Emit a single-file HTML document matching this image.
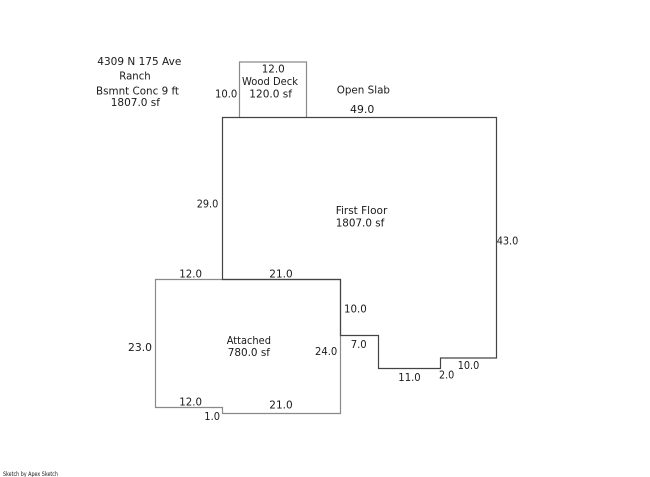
<!DOCTYPE html>
<html>
<head>
<meta charset="utf-8">
<style>
html,body{margin:0;padding:0;background:#fff;}
svg{display:block;}
text{font-family:"DejaVu Sans","Liberation Sans",sans-serif;font-size:11px;fill:#1a1a1a;}
</style>
</head>
<body>
<svg width="650" height="477" viewBox="0 0 650 477" xmlns="http://www.w3.org/2000/svg">
<rect width="650" height="477" fill="#fff"/>
<!-- Wood deck -->
<polyline points="239.5,117 239.5,62 306.5,62 306.5,117" fill="none" stroke="#8a8a8a" stroke-width="1.2"/>
<!-- Attached -->
<polygon points="155.5,279.5 340.5,279.5 340.5,413.5 222.5,413.5 222.5,407.5 155.5,407.5" fill="none" stroke="#8a8a8a" stroke-width="1.2"/>
<!-- First floor -->
<polygon points="222.5,117.5 496.5,117.5 496.5,358 440.5,358 440.5,368.5 378.5,368.5 378.5,335.5 340.5,335.5 340.5,279.5 222.5,279.5" fill="none" stroke="#444" stroke-width="1.2"/>

<!-- header text -->
<text x="97.3" y="65" textLength="84" lengthAdjust="spacingAndGlyphs">4309 N 175 Ave</text>
<text x="119.3" y="79.5" textLength="31.4" lengthAdjust="spacingAndGlyphs">Ranch</text>
<text x="96" y="94.5" textLength="83" lengthAdjust="spacingAndGlyphs">Bsmnt Conc 9 ft</text>
<text x="110.7" y="106" textLength="49.3" lengthAdjust="spacingAndGlyphs">1807.0 sf</text>

<!-- deck labels -->
<text x="261.7" y="72.7" textLength="23" lengthAdjust="spacingAndGlyphs">12.0</text>
<text x="242" y="85" textLength="56" lengthAdjust="spacingAndGlyphs">Wood Deck</text>
<text x="249.3" y="97.3" textLength="42.7" lengthAdjust="spacingAndGlyphs">120.0 sf</text>
<text x="215" y="97.3" textLength="22.3" lengthAdjust="spacingAndGlyphs">10.0</text>

<text x="336.7" y="93.7" textLength="53.3" lengthAdjust="spacingAndGlyphs">Open Slab</text>
<text x="350" y="113" textLength="24.3" lengthAdjust="spacingAndGlyphs">49.0</text>

<text x="196.7" y="207.7" textLength="21.6" lengthAdjust="spacingAndGlyphs">29.0</text>
<text x="335.7" y="214" textLength="51.6" lengthAdjust="spacingAndGlyphs">First Floor</text>
<text x="335.7" y="226.7" textLength="48.6" lengthAdjust="spacingAndGlyphs">1807.0 sf</text>
<text x="496.7" y="244.3" textLength="21.6" lengthAdjust="spacingAndGlyphs">43.0</text>

<!-- attached labels -->
<text x="179.3" y="277.3" textLength="22.7" lengthAdjust="spacingAndGlyphs">12.0</text>
<text x="269.3" y="277.7" textLength="23.4" lengthAdjust="spacingAndGlyphs">21.0</text>
<text x="344" y="312.7" textLength="22.7" lengthAdjust="spacingAndGlyphs">10.0</text>
<text x="128" y="351" textLength="24" lengthAdjust="spacingAndGlyphs">23.0</text>
<text x="226.7" y="344" textLength="44.3" lengthAdjust="spacingAndGlyphs">Attached</text>
<text x="227.7" y="356" textLength="42.3" lengthAdjust="spacingAndGlyphs">780.0 sf</text>
<text x="315" y="355" textLength="22.3" lengthAdjust="spacingAndGlyphs">24.0</text>
<text x="350.7" y="348" textLength="16" lengthAdjust="spacingAndGlyphs">7.0</text>
<text x="179.3" y="405.7" textLength="22.7" lengthAdjust="spacingAndGlyphs">12.0</text>
<text x="269.3" y="408.7" textLength="23.4" lengthAdjust="spacingAndGlyphs">21.0</text>
<text x="204.3" y="420" textLength="15.7" lengthAdjust="spacingAndGlyphs">1.0</text>

<text x="398.3" y="381" textLength="22.4" lengthAdjust="spacingAndGlyphs">11.0</text>
<text x="439" y="378.7" textLength="15.3" lengthAdjust="spacingAndGlyphs">2.0</text>
<text x="457.7" y="369" textLength="21.6" lengthAdjust="spacingAndGlyphs">10.0</text>

<text x="3" y="476" style="font-size:6px" textLength="55" lengthAdjust="spacingAndGlyphs">Sketch by Apex Sketch</text>
</svg>
</body>
</html>
